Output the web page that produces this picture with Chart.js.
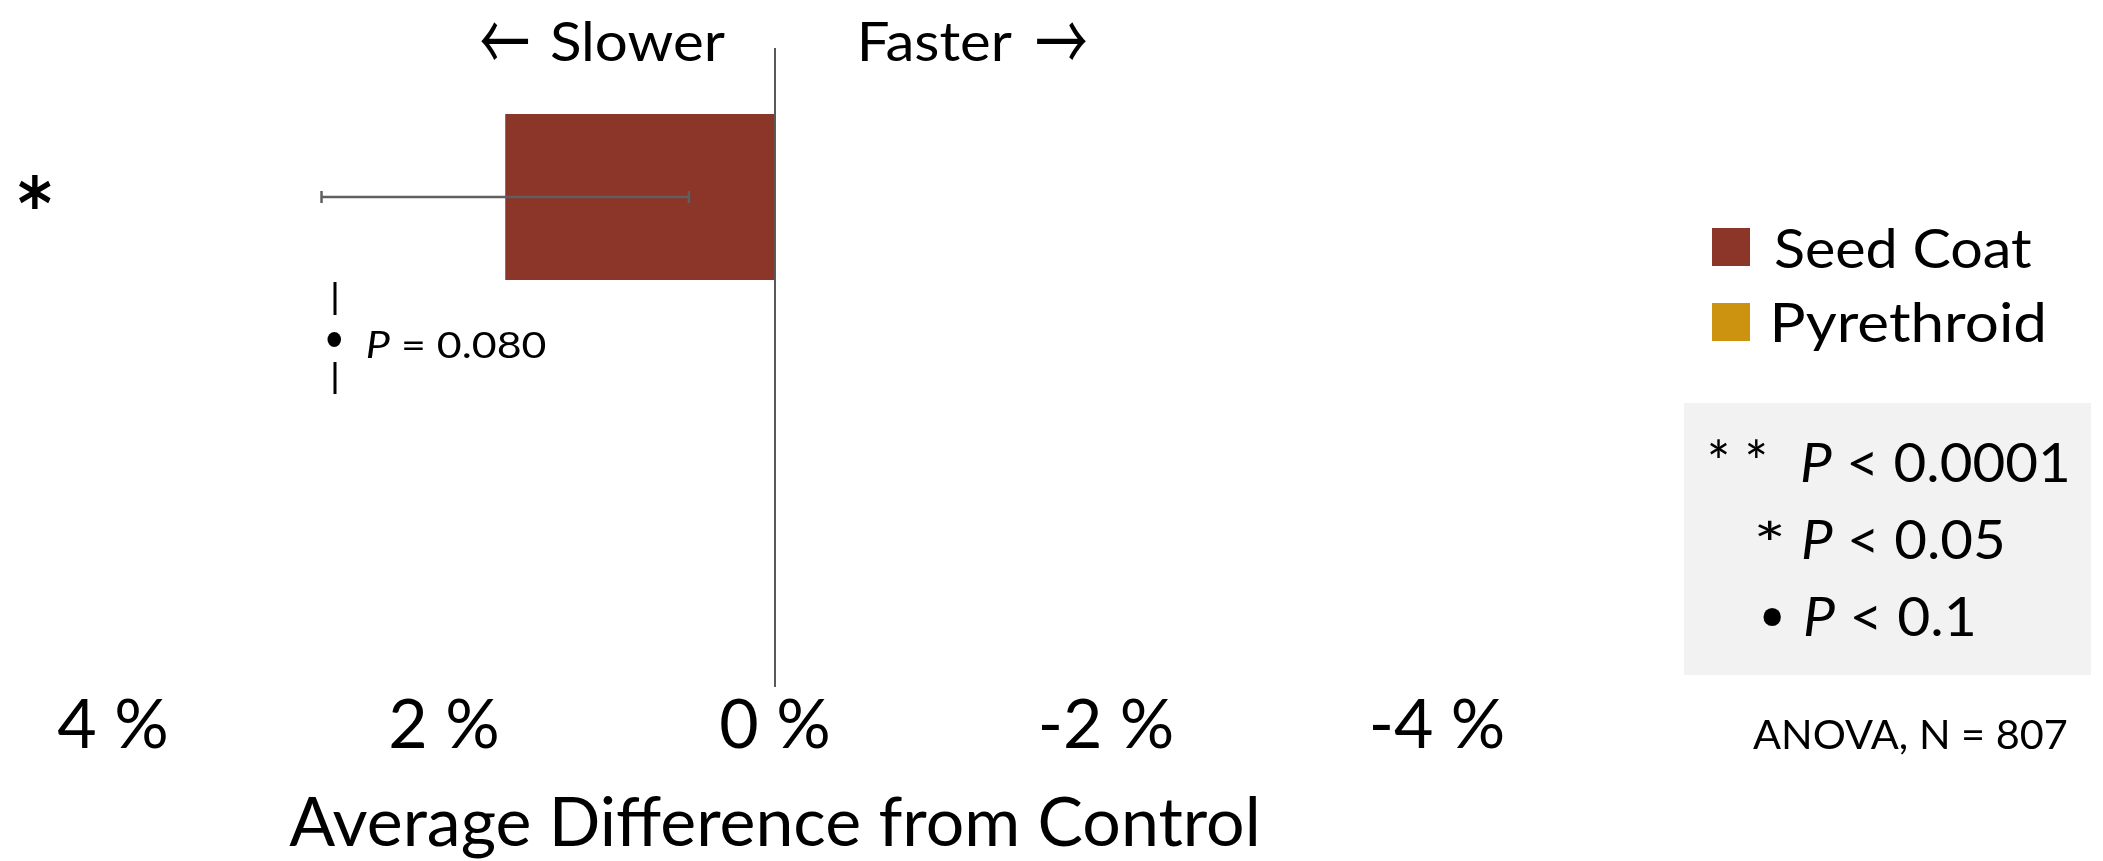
<!DOCTYPE html>
<html>
<head>
<meta charset="utf-8">
<script src="https://cdn.jsdelivr.net/npm/chart.js@4/dist/chart.umd.min.js"></script>
<style>
  html, body { margin: 0; padding: 0; background: #ffffff; overflow: hidden; }
  canvas { display: block; }
</style>
</head>
<body>
<canvas id="chart" width="2103" height="861"></canvas>
<script>
// ---- data ----
const categories = [''];
const seriesNames = ['Seed Coat', 'Pyrethroid'];
const seriesColors = ['#8B3629', '#CC9310'];
const seedCoatValues = [1.63];      // % difference from control
const seedCoatErrors = [1.11];      // ± error
const pyrethroidValues = [null];    // no bar shown
const seedCoatMarks = ['*'];
const pyrethroidMarks = ['\u2022'];
const pyrethroidPValues = ['0.080'];
const xTickValues = [4, 2, 0, -2, -4];
const axisTitle = 'Average Difference from Control';
const directionWords = ['Slower', 'Faster'];
const directionArrows = ['\u2190', '\u2192'];
const keySymbols = ['* *', '*', '\u2022'];
const keyThresholds = ['0.0001', '0.05', '0.1'];
const testNote = 'ANOVA, N = 807';

// ---- text helpers ----
const mctx = document.createElement('canvas').getContext('2d');
function inkWidth(text, font) {
  mctx.font = font;
  const m = mctx.measureText(text);
  return m.actualBoundingBoxLeft + m.actualBoundingBoxRight;
}

// draws a row of text runs whose ink spans [left, right], with the given cap height
function drawRuns(ctx, runs, family, left, right, baseline, cap, color) {
  ctx.save();
  ctx.font = '100px ' + family;
  const capRatio = ctx.measureText('H').actualBoundingBoxAscent / 100;
  const size = cap / capRatio;
  let x = 0, inkL = null, inkR = 0;
  const placed = [];
  runs.forEach(r => {
    const font = (r.italic ? 'italic ' : '') + size + 'px ' + family;
    ctx.font = font;
    const m = ctx.measureText(r.text);
    if (inkL === null) inkL = x - m.actualBoundingBoxLeft;
    inkR = x + m.actualBoundingBoxRight;
    placed.push({ font, text: r.text, x });
    x += m.width;
  });
  const sx = (right - left) / (inkR - inkL);
  ctx.translate(left, baseline);
  ctx.scale(sx, 1);
  ctx.translate(-inkL, 0);
  ctx.fillStyle = color;
  ctx.textAlign = 'left';
  ctx.textBaseline = 'alphabetic';
  placed.forEach(p => { ctx.font = p.font; ctx.fillText(p.text, p.x, 0); });
  ctx.restore();
}

// draws a glyph so that its ink fills the given box
function drawInk(ctx, text, font, x0, y0, x1, y1, color) {
  ctx.save();
  ctx.font = font;
  ctx.textAlign = 'left';
  ctx.textBaseline = 'alphabetic';
  const m = ctx.measureText(text);
  const w = m.actualBoundingBoxLeft + m.actualBoundingBoxRight;
  const h = m.actualBoundingBoxAscent + m.actualBoundingBoxDescent;
  ctx.translate(x0, y0);
  ctx.scale((x1 - x0) / w, (y1 - y0) / h);
  ctx.fillStyle = color;
  ctx.fillText(text, m.actualBoundingBoxLeft, m.actualBoundingBoxAscent);
  ctx.restore();
}

const LATO = 'Lato';
const SANS = '"DejaVu Sans"';
const ARROWS = '"Noto Sans CJK JP"';
const tickSize = Math.round(100 * 108 / inkWidth('4 %', '100px Lato'));
const titleSize = Math.round(100 * 960 / inkWidth(axisTitle, '100px Lato'));

// ---- error bars on the Seed Coat bar ----
const errorBars = {
  id: 'errorBars',
  afterDatasetsDraw(chart) {
    const ctx = chart.ctx;
    const xs = chart.scales.x;
    const meta = chart.getDatasetMeta(0);
    meta.data.forEach((el, i) => {
      const v = seedCoatValues[i], e = seedCoatErrors[i];
      if (v == null) return;
      const xa = xs.getPixelForValue(v + e);
      const xb = xs.getPixelForValue(v - e);
      const y = el.y;
      ctx.save();
      ctx.strokeStyle = '#5f5f5f';
      ctx.lineWidth = 2.5;
      ctx.beginPath();
      ctx.moveTo(xa, y); ctx.lineTo(xb, y);
      ctx.moveTo(xa, y - 6); ctx.lineTo(xa, y + 6);
      ctx.moveTo(xb, y - 6); ctx.lineTo(xb, y + 6);
      ctx.stroke();
      ctx.restore();
    });
  }
};

// ---- annotations, legend and significance key ----
const annotations = {
  id: 'annotations',
  afterDraw(chart) {
    const ctx = chart.ctx;
    const bar = chart.getDatasetMeta(0).data[0];

    // direction labels above the zero line
    drawInk(ctx, directionArrows[0], '100px ' + ARROWS, 481, 22, 528, 60, '#000');
    drawRuns(ctx, [{ text: directionWords[0] }], LATO, 551, 725, 61, 40, '#000');
    drawRuns(ctx, [{ text: directionWords[1] }], LATO, 862, 1012, 61, 40, '#000');
    drawInk(ctx, directionArrows[1], '100px ' + ARROWS, 1037, 22, 1086, 60, '#000');

    // significance mark for Seed Coat
    const cy = bar.y;
    drawInk(ctx, seedCoatMarks[0], 'bold 100px ' + SANS, 19, cy - 22, 51, cy + 12, '#000');

    // Pyrethroid note
    ctx.save();
    ctx.strokeStyle = '#000';
    ctx.lineWidth = 3;
    ctx.beginPath();
    ctx.moveTo(335, 282); ctx.lineTo(335, 315);
    ctx.moveTo(335, 362); ctx.lineTo(335, 394);
    ctx.stroke();
    ctx.restore();
    drawInk(ctx, pyrethroidMarks[0], '100px ' + SANS, 327, 332, 341, 347, '#000');
    drawRuns(ctx, [{ text: 'P', italic: true }, { text: ' = ' + pyrethroidPValues[0] }],
      LATO, 367, 546, 358, 27, '#000');

    // series legend
    const ds = chart.data.datasets;
    const legendRows = [
      { top: 228, base: 268, right: 2032 },
      { top: 303, base: 342, right: 2043 }
    ];
    ds.forEach((d, i) => {
      const r = legendRows[i];
      ctx.fillStyle = d.backgroundColor;
      ctx.fillRect(1712, r.top, 38, 38);
      drawRuns(ctx, [{ text: d.label }], LATO, 1775, r.right, r.base, 40, '#000');
    });

    // significance key
    ctx.fillStyle = '#F2F2F2';
    ctx.fillRect(1684, 403, 407, 272);
    drawInk(ctx, keySymbols[0], '100px ' + LATO, 1710, 439, 1765, 458, '#000');
    drawInk(ctx, keySymbols[1], '100px ' + LATO, 1758, 519, 1782, 539, '#000');
    drawInk(ctx, keySymbols[2], '100px ' + SANS, 1763, 608, 1781, 626, '#000');
    const keyRows = [
      { left: 1802, right: 2067, base: 482 },
      { left: 1803, right: 2003, base: 559 },
      { left: 1805, right: 1973, base: 636 }
    ];
    keyThresholds.forEach((t, i) => {
      const r = keyRows[i];
      drawRuns(ctx, [{ text: 'P', italic: true }, { text: ' < ' + t }], LATO, r.left, r.right, r.base, 40, '#000');
    });

    drawRuns(ctx, [{ text: testNote }], LATO, 1753, 2067, 749, 30, '#000');
  }
};

new Chart(document.getElementById('chart'), {
  type: 'bar',
  data: {
    labels: categories,
    datasets: [
      {
        label: seriesNames[0],
        data: seedCoatValues,
        backgroundColor: seriesColors[0],
        categoryPercentage: 1.067,
        barPercentage: 0.487
      },
      {
        label: seriesNames[1],
        data: pyrethroidValues,
        backgroundColor: seriesColors[1],
        categoryPercentage: 1.067,
        barPercentage: 0.487
      }
    ]
  },
  options: {
    indexAxis: 'y',
    responsive: false,
    animation: false,
    events: [],
    layout: { padding: { left: 113, right: 666, top: 48, bottom: 0 } },
    plugins: {
      legend: { display: false },
      tooltip: { enabled: false },
      title: { display: false }
    },
    scales: {
      x: {
        type: 'linear',
        min: -4,
        max: 4,
        reverse: true,
        z: 1,
        border: { display: false },
        afterBuildTicks: s => { s.ticks = xTickValues.map(v => ({ value: v })); },
        afterFit: s => { s.height = 174; },
        grid: {
          drawTicks: false,
          lineWidth: 2,
          color: c => (c.tick && c.tick.value === 0) ? '#595959' : 'rgba(0,0,0,0)'
        },
        ticks: {
          color: '#000',
          padding: 5,
          maxRotation: 0,
          autoSkip: false,
          font: { family: LATO, size: tickSize, lineHeight: 1 },
          callback: v => v + ' %'
        },
        title: {
          display: true,
          text: axisTitle,
          color: '#000',
          font: { family: LATO, size: titleSize, lineHeight: 1 },
          padding: { top: 0, bottom: 3 }
        }
      },
      y: {
        type: 'category',
        display: false
      }
    }
  },
  plugins: [errorBars, annotations]
});
</script>
</body>
</html>
